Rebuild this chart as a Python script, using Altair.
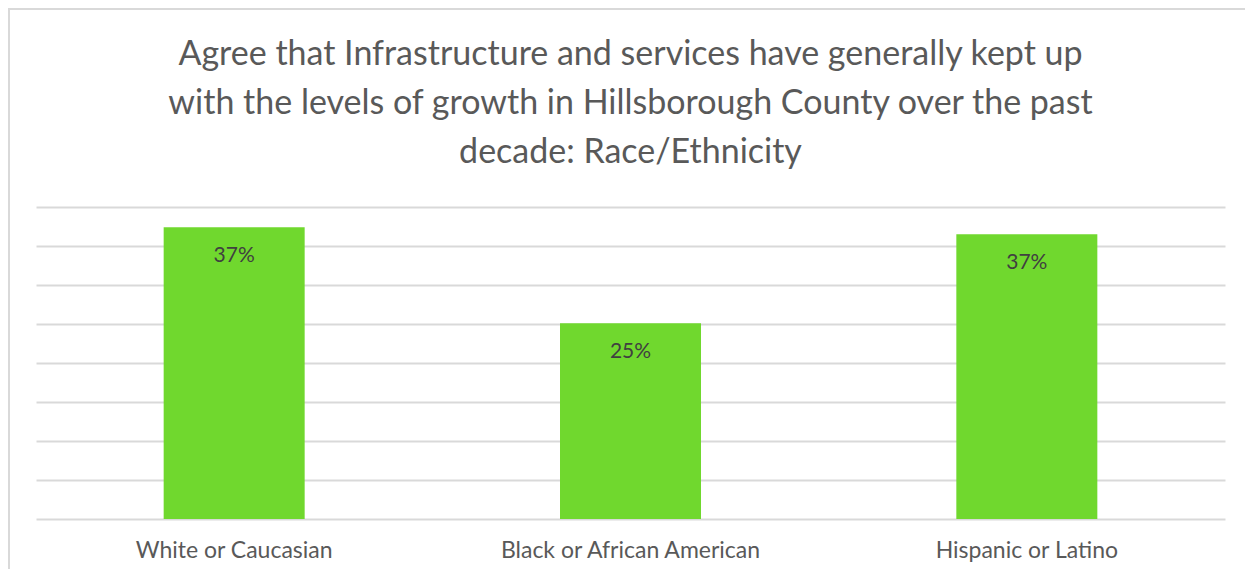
import altair as alt
import pandas as pd

categories = ["White or Caucasian", "Black or African American", "Hispanic or Latino"]
values = [37.4, 25.1, 36.5]
labels = ["37%", "25%", "37%"]
title_lines = ["Agree that Infrastructure and services have generally kept up",
               "with the levels of growth in Hillsborough County over the past",
               "decade: Race/Ethnicity"]

df = pd.DataFrame({"group": categories, "value": values, "label": labels})

FONT = "Lato"
GREEN = "#70d82e"

x_enc = alt.X("group:N", sort=categories, title=None,
              scale=alt.Scale(paddingInner=0, paddingOuter=0),
              axis=alt.Axis(labelAngle=0, labelFont=FONT, labelFontSize=23,
                            labelColor="#595959", labelPadding=20, ticks=False,
                            domain=False, grid=False, labelLimit=400))
y_enc = alt.Y("value:Q", title=None,
              scale=alt.Scale(domain=[0, 40], nice=False),
              axis=alt.Axis(values=[0, 5, 10, 15, 20, 25, 30, 35, 40], labels=False,
                            ticks=False, domain=False, grid=True,
                            gridColor="#d9d9d9", gridWidth=2))

bars = alt.Chart(df).mark_bar(size=141, color=GREEN).encode(x=x_enc, y=y_enc)

text = alt.Chart(df).mark_text(baseline="top", dy=18, font=FONT, fontSize=21,
                               color="#404040").encode(
    x=x_enc, y=y_enc, text="label:N")

title = alt.Chart(df.head(1)).mark_text(
    text=title_lines, font=FONT, fontSize=34, color="#595959", lineHeight=49,
    align="center", baseline="middle").encode(
    x=alt.value(594.5), y=alt.value(-152))

border_left = alt.Chart(df.head(1)).mark_rule(color="#d9d9d9", strokeWidth=2).encode(
    x=alt.value(-27), y=alt.value(-199), y2=alt.value(400))
border_top = alt.Chart(df.head(1)).mark_rule(color="#d9d9d9", strokeWidth=2).encode(
    x=alt.value(-27), x2=alt.value(1240), y=alt.value(-198))

chart = alt.layer(bars, text, title, border_left, border_top).properties(
    width=1189, height=312,
    background="white",
    autosize=alt.AutoSizeParams(type="none"),
    padding={"left": 28, "top": 199, "right": 20, "bottom": 50},
).configure_view(stroke="transparent", strokeWidth=0)

chart.save("out.html", embed_options={"renderer": "svg", "actions": False})
